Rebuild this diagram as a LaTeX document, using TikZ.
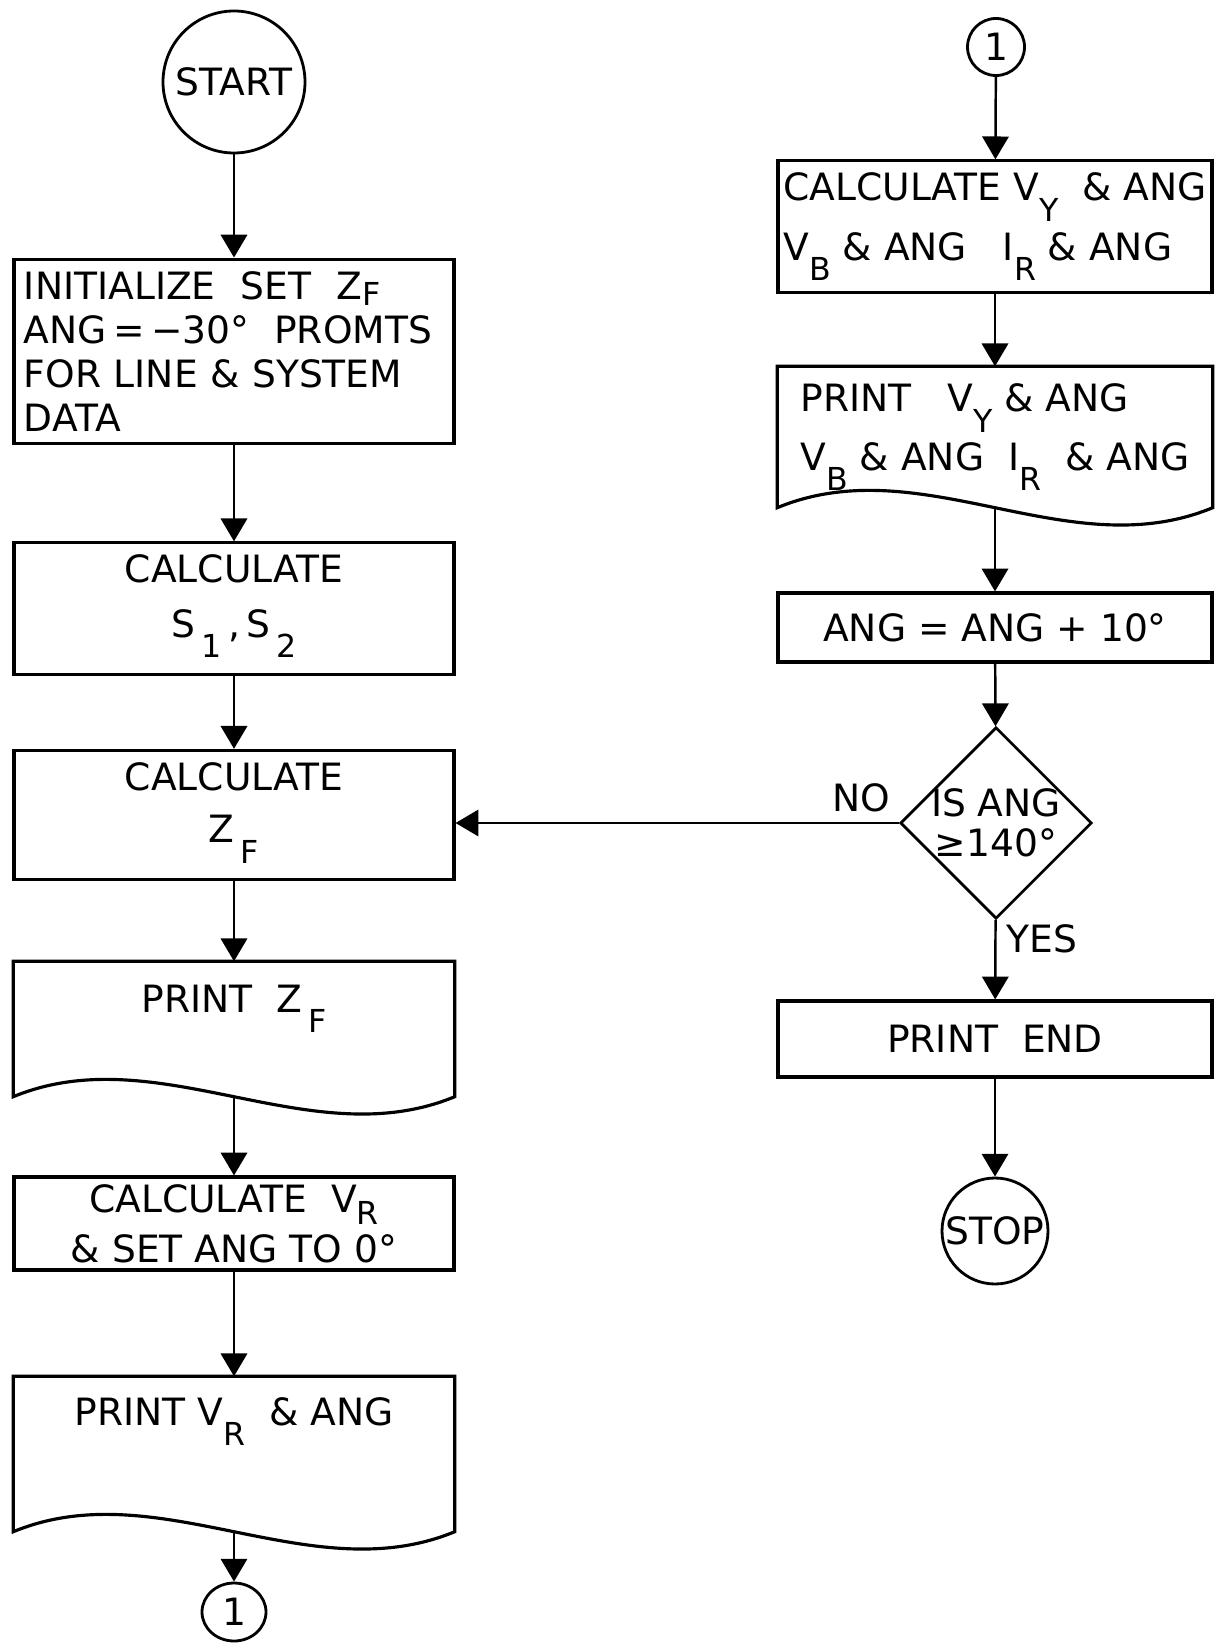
\documentclass[tikz,border=0pt]{standalone}
\usepackage{fontspec}
\setmainfont{DejaVu Sans}
\usepackage{tikz}
\usetikzlibrary{calc, shapes.geometric, positioning, arrows.meta}

% lowered index letters (no effect on line spacing)
\newcommand{\low}[2][-1ex]{\raisebox{#1}[0pt][0pt]{\small #2}}
% print symbol: box with a wavy bottom edge
\newcommand{\docline}[1]{\draw[line width=0.9pt] (#1.north west) -- (#1.north east) -- (#1.south east)
    .. controls +(-1.45,-0.6) and +(1.45,0.6) .. (#1.south west) -- cycle;}

\tikzset{
    box/.style={draw, line width=0.9pt, minimum width=4.4cm, inner sep=0.12cm},
    doc/.style={minimum width=4.4cm, inner xsep=0.12cm, inner ysep=0.2cm},
    term/.style={draw, circle, line width=0.8pt, inner sep=0pt},
    flow/.style={->, line width=0.7pt},
    tag/.style={inner sep=0pt}
}

\begin{document}
\begin{tikzpicture}[>={Triangle[width=7.5pt,length=6.5pt]}, font=\fontsize{10.7}{12.6}\selectfont]
    \useasboundingbox (0,0) rectangle (12.19,-16.52);

    % Left column
    \node[term, minimum size=1.42cm] (start) at (2.34,-0.82) {START};
    \node[box, minimum height=1.77cm, text width=4.2cm, inner xsep=0.1cm, align=left] (init) at (2.34,-3.515)
        {INITIALIZE\ \ SET\ \ Z\low[-0.3ex]{F}\\ANG\,=\,−30°\ \ PROMTS\\FOR LINE \& SYSTEM\\DATA};
    \node[box, minimum height=1.21cm, align=center] (calcs) at (2.34,-6.085)
        {CALCULATE\\[0.1cm]S\,\low{1}\,,\,S\,\low{2}\rule[-0.25cm]{0pt}{0pt}};
    \node[box, minimum height=1.18cm, align=center] (calcz) at (2.34,-8.15)
        {CALCULATE\\[0.08cm]Z\,\low{F}\rule[-0.25cm]{0pt}{0pt}};
    \node[doc, text height=0.3cm, text depth=0.64cm] (printz) at (2.34,-10.29) {PRINT\ \ Z\,\low{F}};
    \node[box, minimum height=0.93cm, inner ysep=0.06cm, align=center] (calcv) at (2.34,-12.235)
        {CALCULATE\ \ V\low[-0.6ex]{R}\\[0.06cm]\& SET ANG TO 0°};
    \node[doc, text height=0.3cm, text depth=0.88cm, inner ysep=0.18cm] (printv) at (2.34,-14.54)
        {PRINT V\low{R}\ \ \& ANG};
    \node[draw, ellipse, line width=0.8pt, inner sep=0pt, minimum width=0.64cm, minimum height=0.58cm]
        (conout) at (2.34,-16.12) {1};
    \docline{printz}
    \docline{printv}

    % Right column
    \node[term, minimum size=0.57cm] (conin) at (9.96,-0.47) {1};
    \node[box, minimum width=4.34cm, minimum height=1.27cm, align=left, inner xsep=0.03cm] (calcy) at (9.95,-2.265)
        {CALCULATE V\low{Y}\ \ \& ANG\\[0.15cm]V\low{B} \& ANG\ \ \ I\low{R} \& ANG\rule[-0.2cm]{0pt}{0pt}};
    \node[doc, minimum width=4.34cm, minimum height=1.4cm, align=left, inner ysep=0.12cm] (printy) at (9.95,-4.37)
        {PRINT\ \ \ V\low{Y} \& ANG\\[0.14cm]V\low{B} \& ANG\ \ I\low{R}\ \ \& ANG\rule[-0.2cm]{0pt}{0pt}};
    \node[box, minimum width=4.34cm, minimum height=0.69cm] (incang) at (9.95,-6.275) {ANG = ANG + 10°};
    \node[draw, diamond, line width=0.8pt, inner sep=-0.5pt, minimum width=1.84cm, minimum height=1.76cm,
        align=center] (dec) at (9.96,-8.23) {IS ANG\\[-0.04cm]≥140°};
    \node[box, minimum width=4.34cm, minimum height=0.76cm] (printend) at (9.95,-10.39) {PRINT\ \ END};
    \node[term, minimum size=1.06cm] (stop) at (9.95,-12.31) {STOP};
    \docline{printy}

    \node[tag, above left=0.1cm and 0.08cm of dec.west] (no) {NO};
    \node[tag, below right=0.04cm and 0.1cm of dec.south] (yes) {YES};

    % Flow lines
    \draw[flow] (start) -- (init);
    \draw[flow] (init) -- (calcs);
    \draw[flow] (calcs) -- (calcz);
    \draw[flow] (calcz) -- (printz);
    \draw[flow] (printz) -- (calcv);
    \draw[flow] (calcv) -- (printv);
    \draw[flow] (printv) -- (conout);
    \draw[flow] (conin) -- (calcy);
    \draw[flow] (calcy) -- (printy);
    \draw[flow] (printy) -- (incang);
    \draw[flow] (incang) -- (dec);
    \draw[flow] (dec) -- (printend);
    \draw[flow] (printend) -- (stop);
    \draw[flow] (dec.west) -- (dec.west -| calcz.east);
\end{tikzpicture}
\end{document}
